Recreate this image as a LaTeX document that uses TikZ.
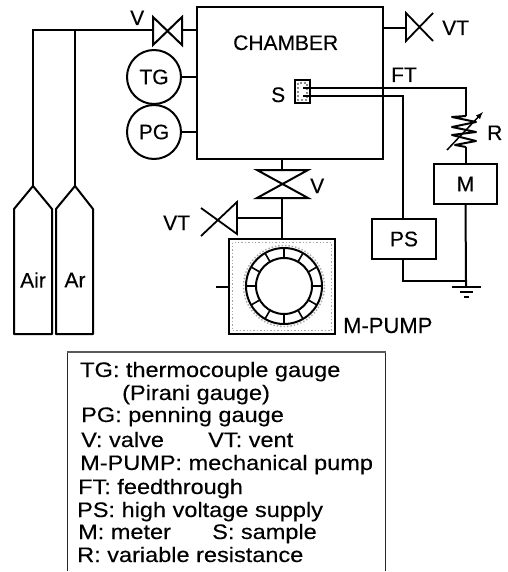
\documentclass[tikz,border=0pt]{standalone}
\usepackage{fontspec}
\setmainfont[FakeBold=0.25]{Liberation Sans}
\newfontfamily\legendfont[FakeStretch=1.12,FakeBold=0.25]{Liberation Sans}
\begin{document}
\begin{tikzpicture}[x=1pt,y=-1pt,
  wire/.style={line width=2pt,line join=miter},
  thin wire/.style={line width=1.6pt},
  boxed/.style={draw,line width=2pt,rectangle,inner sep=0pt,font=\fontsize{21}{21}\selectfont},
  gauge/.style={draw,line width=2pt,circle,inner sep=0pt,minimum size=54pt,font=\fontsize{21}{21}\selectfont},
  label/.style={inner sep=0pt,anchor=base west,font=\fontsize{21}{21}\selectfont},
  legendline/.style={inner sep=0pt,anchor=base west,font=\legendfont\fontsize{21}{21}\selectfont},
  speckle/.style={draw=black!35,line width=1.4pt,dotted},
]
\useasboundingbox (0,0) rectangle (507,572);
\fill[white] (0,0) rectangle (507,572);

% main boxes
\node[boxed,minimum width=186pt,minimum height=152pt] (chamber) at (290,83) {};
\node[label] (chamberlabel) at (233,50) {CHAMBER};
\node[gauge] (tg) at (154,77) {TG};
\node[gauge] (pg) at (154,132) {PG};
\node[boxed,minimum width=63pt,minimum height=40pt] (meter) at (465.5,184) {M};
\node[boxed,minimum width=64pt,minimum height=40pt] (ps) at (404,239) {PS};

% sample
\draw[draw=black!45,line width=2pt,dotted] (298,83) rectangle (307,100);
\node[draw,line width=1.8pt,minimum width=15pt,minimum height=23pt,inner sep=0pt] (sample) at (302.5,91.5) {};
\node[label] (slabel) at (271,102) {S};
\coordinate (w1) at (303,88);
\coordinate (w2) at (303,96);
\coordinate (ft) at (466,88);
\coordinate (rtop) at (466,116);
\coordinate (rbot) at (466,147);
\coordinate (psturn) at (403,96);

% sample wiring
\draw[wire] (w1) -- (ft) -- (rtop);
\draw[wire] (w2) -- (psturn) -- (psturn |- ps.north);
\draw[wire] (rbot) -- (rbot |- meter.north);
\node[label] (ftlabel) at (391,82) {FT};

% variable resistance
\draw[line width=2pt,line join=round] (rtop) -- (452,117) -- (476,122) -- (452,127) -- (476,132) -- (452,135) -- (476,141) -- (455,145) -- (rbot);
\draw[line width=1.5pt,-latex] (447,150) -- (483,112);
\node[label] (rlabel) at (487,140) {R};

% ground
\coordinate (gnode) at (466,281);
\coordinate (gbar) at (466,287);
\draw[wire] (meter.south) -- (gnode) -- (gbar);
\draw[wire] (ps.south -| psturn) -- (psturn |- gnode) -- (gnode);
\draw[wire] (452,287) -- (481,287);
\draw[wire] (460,292) -- (473,292);
\draw[wire] (464,297) -- (469,297);

% top valve
\coordinate (vleft) at (153,30);
\coordinate (vright) at (182,30);
\draw[line width=2pt,line join=miter] (vleft |- 0,17) -- (vright |- 0,45) -- (vright |- 0,17) -- (vleft |- 0,45) -- cycle;
\draw[wire] (vright) -- (vright -| chamber.west);
\node[label] (vtoplabel) at (130,25) {V};

% gauge connectors
\draw[wire] (tg.east) -- (tg.east -| chamber.west);
\draw[thin wire] (pg.east) -- (pg.east -| chamber.west);

% top vent
\coordinate (vt1) at (406,28);
\draw[wire] (vt1 -| chamber.east) -- (vt1);
\draw[line width=1.8pt,line join=miter] (433,41) -- (406,13) -- (406,41) -- (433,13);
\node[label] (vt1label) at (442,35) {VT};

% gas cylinders
\coordinate (airtop) at (33,186);
\coordinate (artop) at (75,186);
\coordinate (manifold) at (33,30);
\draw[line width=2pt,line join=round] (airtop) -- (14,209) -- (14,334) -- (52,334) -- (52,209) -- cycle;
\draw[line width=2pt,line join=round] (artop) -- (56,209) -- (56,334) -- (93,334) -- (93,209) -- cycle;
\node[label,anchor=center] (airlabel) at (33,280) {Air};
\node[label,anchor=center] (arlabel) at (75,280) {Ar};
\draw[wire] (airtop) -- (manifold) -- (vleft);
\draw[wire] (artop) -- (artop |- vleft);

% bottom valve
\coordinate (bvtop) at (282,170);
\coordinate (bvbot) at (282,198);
\draw[wire] (bvtop |- chamber.south) -- (bvtop);
\draw[line width=2pt,line join=miter] (257,170) -- (308,170) -- (257,198) -- (308,198) -- cycle;
\node[label] (vbotlabel) at (310,193) {V};

% pump
\node[draw,line width=2.2pt,minimum width=106pt,minimum height=95pt,inner sep=0pt] (pump) at (282,286.5) {};
\draw[speckle] (232.5,242.5) rectangle (331.5,330.5);
\coordinate (pc) at (284,286);
\draw[draw=black!35,line width=1.4pt,dotted] (pc) circle (40.5pt);
\draw[line width=2pt] (pc) circle (38pt);
\draw[line width=2pt] (pc) circle (28pt);
\foreach \a in {0,30,...,330} \draw[line width=1.6pt] (pc) ++(\a:28pt) -- ++(\a:10pt);
\draw[wire] (bvbot) -- (bvbot |- pump.north);
\coordinate (pstub) at (216,287);
\draw[wire] (pstub) -- (pstub -| pump.west);
\node[label,font=\fontsize{22}{22}\selectfont] (pumplabel) at (343,333) {M-PUMP};

% lower vent
\coordinate (vt2) at (237,218);
\draw[wire] (vt2) -- (vt2 -| bvbot);
\draw[line width=1.8pt,line join=miter] (201,208) -- (237,234) -- (237,202) -- (201,236);
\node[label] (vt2label) at (163,230) {VT};

% legend
\draw[draw=black!85,line width=1pt] (67,571) -- (67,352);
\draw[draw=black!85,line width=1pt] (385,352) -- (385,571);
\draw[draw=black!65,line width=1.6pt] (66.5,352) -- (385.5,352);
\node[legendline] (l1) at (80,377) {TG: thermocouple gauge};
\node[legendline] (l2) at (122,400) {(Pirani gauge)};
\node[legendline] (l3) at (81,422) {PG: penning gauge};
\node[legendline] (l4) at (81,447) {V: valve};
\node[legendline] (l4b) at (208,447) {VT: vent};
\node[legendline] (l5) at (80,470) {M-PUMP: mechanical pump};
\node[legendline] (l6) at (78,494) {FT: feedthrough};
\node[legendline] (l7) at (77,517) {PS: high voltage supply};
\node[legendline] (l8) at (78,539) {M: meter};
\node[legendline] (l8b) at (212,539) {S: sample};
\node[legendline] (l9) at (77,562) {R: variable resistance};
\end{tikzpicture}
\end{document}
